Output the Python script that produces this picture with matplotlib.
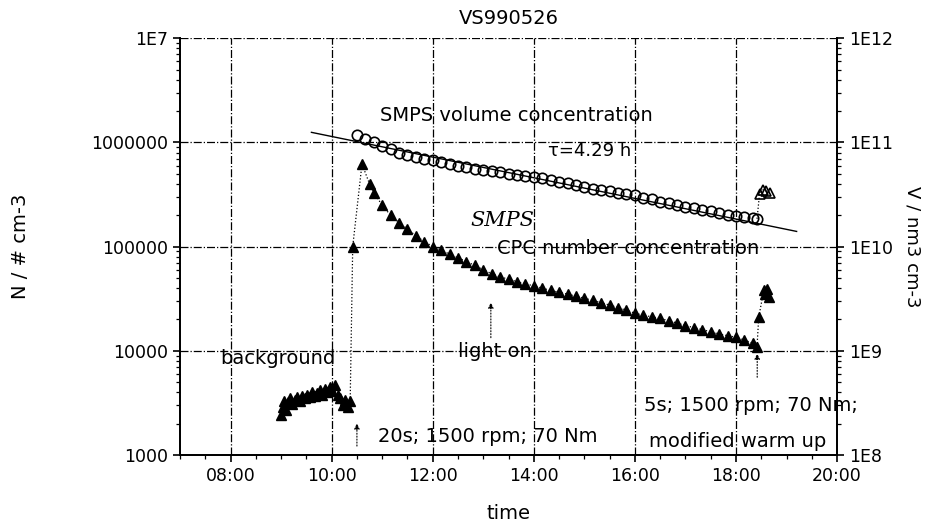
import matplotlib
matplotlib.use("Agg")
import matplotlib.pyplot as plt
from matplotlib.ticker import FixedLocator, FixedFormatter, LogLocator, MultipleLocator, NullFormatter

plt.rcParams['font.family'] = ['DejaVu Sans']


def to_hours(stamps):
    # "HH:MM" -> decimal hours
    return [int(s[:2]) + int(s[3:]) / 60.0 for s in stamps]


x_ticks = [8, 10, 12, 14, 16, 18, 20]
x_tick_labels = ["08:00", "10:00", "12:00", "14:00", "16:00", "18:00", "20:00"]
n_ticks = [1e3, 1e4, 1e5, 1e6, 1e7]
n_tick_labels = ["1000", "10000", "100000", "1000000", "1E7"]
v_ticks = [1e8, 1e9, 1e10, 1e11, 1e12]
v_tick_labels = ["1E8", "1E9", "1E10", "1E11", "1E12"]

# CPC number concentration (# cm-3): background before the engine run
bg_time = ["09:00", "09:02", "09:04", "09:06", "09:08", "09:10", "09:13", "09:16",
           "09:19", "09:22", "09:25", "09:28", "09:31", "09:34", "09:37", "09:40",
           "09:43", "09:46", "09:49", "09:52", "09:55", "09:58", "10:01", "10:04",
           "10:07", "10:10", "10:13", "10:16", "10:19", "10:22"]
bg_number = [2400, 2900, 3300, 2700, 3200, 3500, 3100, 3400, 3600, 3300,
             3700, 3500, 3800, 3600, 4000, 3700, 3900, 4200, 3800, 4300,
             4000, 4500, 4100, 4700, 3800, 3500, 3000, 3400, 2900, 3300]

# spike and decay
num_time = ["10:25", "10:36", "10:45", "10:50", "11:00", "11:10", "11:20", "11:30",
            "11:40", "11:50", "12:00", "12:10", "12:20", "12:30", "12:40", "12:50",
            "13:00", "13:10", "13:20", "13:30", "13:40", "13:50", "14:00", "14:10",
            "14:20", "14:30", "14:40", "14:50", "15:00", "15:10", "15:20", "15:30",
            "15:40", "15:50", "16:00", "16:10", "16:20", "16:30", "16:40", "16:50",
            "17:00", "17:10", "17:20", "17:30", "17:40", "17:50", "18:00", "18:10",
            "18:20", "18:25"]
num_conc = [1.0e5, 6.2e5, 4.0e5, 3.3e5, 2.5e5, 2.0e5, 1.7e5, 1.48e5,
            1.27e5, 1.12e5, 1.0e5, 9.2e4, 8.5e4, 7.8e4, 7.2e4, 6.6e4,
            6.0e4, 5.5e4, 5.1e4, 4.9e4, 4.6e4, 4.4e4, 4.2e4, 4.0e4,
            3.8e4, 3.65e4, 3.5e4, 3.35e4, 3.2e4, 3.05e4, 2.9e4, 2.75e4,
            2.6e4, 2.45e4, 2.3e4, 2.2e4, 2.12e4, 2.05e4, 1.95e4, 1.85e4,
            1.75e4, 1.67e4, 1.6e4, 1.52e4, 1.45e4, 1.4e4, 1.35e4, 1.27e4,
            1.18e4, 1.1e4]

# modified warm up
warm_time = ["18:27", "18:33", "18:35", "18:37", "18:39"]
warm_number = [2.1e4, 3.8e4, 3.5e4, 3.9e4, 3.3e4]

# SMPS volume concentration (nm3 cm-3)
vol_time = ["10:30", "10:40", "10:50", "11:00", "11:10", "11:20", "11:30", "11:40",
            "11:50", "12:00", "12:10", "12:20", "12:30", "12:40", "12:50", "13:00",
            "13:10", "13:20", "13:30", "13:40", "13:50", "14:00", "14:10", "14:20",
            "14:30", "14:40", "14:50", "15:00", "15:10", "15:20", "15:30", "15:40",
            "15:50", "16:00", "16:10", "16:20", "16:30", "16:40", "16:50", "17:00",
            "17:10", "17:20", "17:30", "17:40", "17:50", "18:00", "18:10", "18:20",
            "18:25"]
vol_conc = [1.17e11, 1.08e11, 1.0e11, 9.2e10, 8.6e10, 8.0e10, 7.6e10, 7.3e10,
            7.0e10, 6.8e10, 6.5e10, 6.2e10, 6.0e10, 5.8e10, 5.6e10, 5.4e10,
            5.3e10, 5.15e10, 5.0e10, 4.9e10, 4.8e10, 4.7e10, 4.55e10, 4.4e10,
            4.2e10, 4.05e10, 3.9e10, 3.75e10, 3.6e10, 3.5e10, 3.4e10, 3.3e10,
            3.2e10, 3.1e10, 2.95e10, 2.85e10, 2.7e10, 2.6e10, 2.5e10, 2.4e10,
            2.33e10, 2.27e10, 2.2e10, 2.1e10, 2.0e10, 1.95e10, 1.92e10, 1.88e10,
            1.85e10]

warm_vol_time = ["18:28", "18:32", "18:36", "18:40"]
warm_vol = [3.2e10, 3.5e10, 3.4e10, 3.3e10]

# exponential fit line, tau = 4.29 h
fit_time = ["09:36", "19:12"]
fit_vol = [1.25e11, 1.40e10]

fig = plt.figure(figsize=(9.28, 5.31), dpi=100)
ax = fig.add_axes([0.194, 0.143, 0.708, 0.785])
ax2 = ax.twinx()

ax.set_yscale('log')
ax2.set_yscale('log')
ax.set_xlim(7, 20)
ax.set_ylim(1e3, 1e7)
ax2.set_ylim(1e8, 1e12)

ax.grid(True, which='major', ls='-.', lw=0.9, color='black')

# number concentration
t_bg = to_hours(bg_time)
t_num = to_hours(num_time)
t_warm = to_hours(warm_time)
ax.plot(t_bg, bg_number, ls='none', marker='^', ms=7, color='black')
ax.plot(t_bg[-1:] + t_num, bg_number[-1:] + num_conc, ls=':', lw=0.9,
        marker='^', ms=7, color='black', markevery=list(range(1, len(t_num) + 1)))
ax.plot(t_num[-1:] + t_warm, num_conc[-1:] + warm_number, ls=':', lw=0.9,
        marker='^', ms=7, color='black', markevery=list(range(1, len(t_warm) + 1)))

# volume concentration
t_vol = to_hours(vol_time)
t_wv = to_hours(warm_vol_time)
ax2.plot(t_vol, vol_conc, ls='none', marker='o', ms=7.5, mfc='none', mec='black', mew=1.2)
ax2.plot(t_vol[-1:] + t_wv, vol_conc[-1:] + warm_vol, ls=':', lw=0.9,
         marker='^', ms=7, mfc='none', mec='black', mew=1.2, color='black',
         markevery=list(range(1, len(t_wv) + 1)))
ax2.plot(to_hours(fit_time), fit_vol, color='black', lw=1.0)

# axes and ticks
ax.xaxis.set_major_locator(FixedLocator(x_ticks))
ax.xaxis.set_major_formatter(FixedFormatter(x_tick_labels))
ax.xaxis.set_minor_locator(MultipleLocator(0.5))
ax.yaxis.set_major_locator(FixedLocator(n_ticks))
ax.yaxis.set_major_formatter(FixedFormatter(n_tick_labels))
ax.yaxis.set_minor_locator(LogLocator(base=10, subs=range(2, 10)))
ax.yaxis.set_minor_formatter(NullFormatter())
ax2.yaxis.set_major_locator(FixedLocator(v_ticks))
ax2.yaxis.set_major_formatter(FixedFormatter(v_tick_labels))
ax2.yaxis.set_minor_locator(LogLocator(base=10, subs=range(2, 10)))
ax2.yaxis.set_minor_formatter(NullFormatter())

for a in (ax, ax2):
    a.spines['top'].set_visible(False)
    for s in ('left', 'right', 'bottom'):
        a.spines[s].set_linewidth(1.3)
    a.tick_params(which='major', direction='out', length=5, width=1.2, labelsize=12.5)
    a.tick_params(which='minor', direction='out', length=3, width=0.9)

ax.set_title("VS990526", fontsize=14, pad=10)
ax.set_xlabel("time", fontsize=14, labelpad=14)
ax.set_ylabel("N / # cm-3", fontsize=14, labelpad=44)
ax2.set_ylabel("V / nm3 cm-3", fontsize=13, rotation=-90, labelpad=8, va='bottom')

# annotations
ax.text(10.96, 10**6.26, "SMPS volume concentration", fontsize=14, va='center')
ax.text(14.28, 10**5.92, "\u03c4=4.29 h", fontsize=13, va='center')
ax.text(12.74, 10**5.25, "SMPS", fontsize=15, style='italic', family='DejaVu Serif', va='center')
ax.text(13.27, 10**4.98, "CPC number concentration", fontsize=14, va='center')
ax.text(7.79, 10**3.93, "background", fontsize=14, va='center')
ax.text(12.5, 10**3.99, "light on", fontsize=14, va='center')
ax.text(10.92, 10**3.18, "20s; 1500 rpm; 70 Nm", fontsize=14, va='center')
ax.text(16.18, 10**3.48, "5s; 1500 rpm; 70 Nm;", fontsize=14, va='center', clip_on=False)
ax.text(16.28, 10**3.13, "modified warm up", fontsize=14, va='center')

arrow = dict(arrowstyle='-|>', lw=0.8, ls=':', color='black', mutation_scale=8)
ax.annotate('', xy=(10.5, 10**3.33), xytext=(10.5, 10**3.06), arrowprops=arrow)
ax.annotate('', xy=(18.42, 10**4.0), xytext=(18.42, 10**3.72), arrowprops=arrow)
ax.annotate('', xy=(13.15, 10**4.49), xytext=(13.15, 10**4.1), arrowprops=arrow)

fig.savefig("out.png", dpi=100)
